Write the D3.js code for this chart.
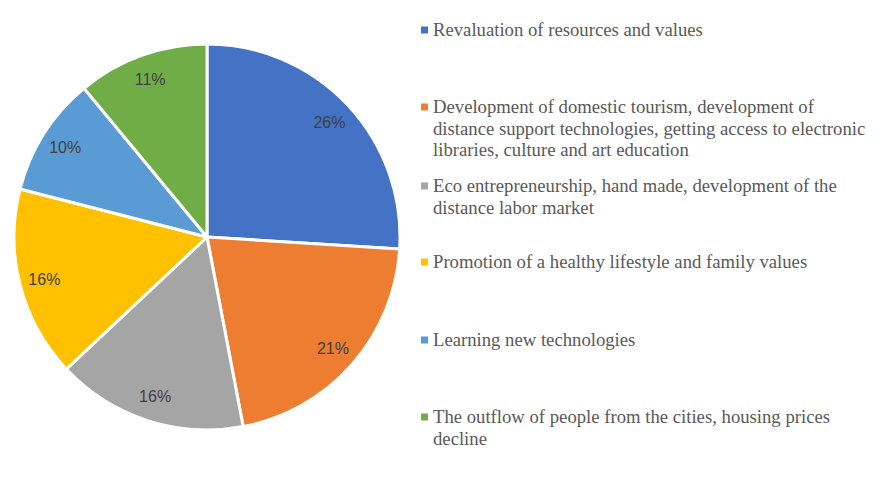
<!DOCTYPE html>
<html><head><meta charset="utf-8">
<script src="https://cdn.jsdelivr.net/npm/d3@7"></script>
<style>body{margin:0;background:#fff}svg{display:block}</style>
</head><body>
<svg id="c" width="886" height="477"></svg>
<script>
const categories = [
  ["Revaluation of resources and values"],
  ["Development of domestic tourism, development of", "distance support technologies, getting access to electronic", "libraries, culture and art education"],
  ["Eco entrepreneurship, hand made, development of the", "distance labor market"],
  ["Promotion of a healthy lifestyle and family values"],
  ["Learning new technologies"],
  ["The outflow of people from the cities, housing prices", "decline"]
];
const values = [26, 21, 16, 16, 10, 11];
const colors = ["#4472C4", "#ED7D31", "#A5A5A5", "#FFC000", "#5B9BD5", "#70AD47"];
const legendY = [30, 107, 186, 262, 340, 417];

const svg = d3.select("#c");
const cx = 207, cy = 237, R = 193;
const pie = d3.pie().sort(null).value(d => d)(values);
const arc = d3.arc().innerRadius(0).outerRadius(R);
const labelArc = d3.arc().innerRadius(R * 0.87).outerRadius(R * 0.87);
const g = svg.append("g").attr("transform", `translate(${cx},${cy})`);
g.selectAll("path").data(pie).join("path")
  .attr("d", arc).attr("fill", (d, i) => colors[i])
  .attr("stroke", "#fff").attr("stroke-width", 3).attr("stroke-linejoin", "round");
g.selectAll("text").data(pie).join("text")
  .attr("transform", d => `translate(${labelArc.centroid(d)})`)
  .attr("text-anchor", "middle").attr("dy", "0.36em")
  .attr("font-family", "Liberation Sans, Arial, sans-serif").attr("font-size", 16)
  .attr("fill", "#404040")
  .text(d => d.data + "%");

const lg = svg.append("g");
categories.forEach((lines, i) => {
  lg.append("rect").attr("x", 421).attr("y", legendY[i] - 3.5).attr("width", 7).attr("height", 7).attr("fill", colors[i]);
  const t = lg.append("text").attr("x", 433).attr("y", legendY[i])
    .attr("font-family", "Liberation Serif, Times New Roman, serif").attr("font-size", 18.7).attr("fill", "#595959");
  lines.forEach((l, j) => t.append("tspan").attr("x", 433).attr("dy", j === 0 ? "0.33em" : 21.5).text(l));
});
</script>
</body></html>
